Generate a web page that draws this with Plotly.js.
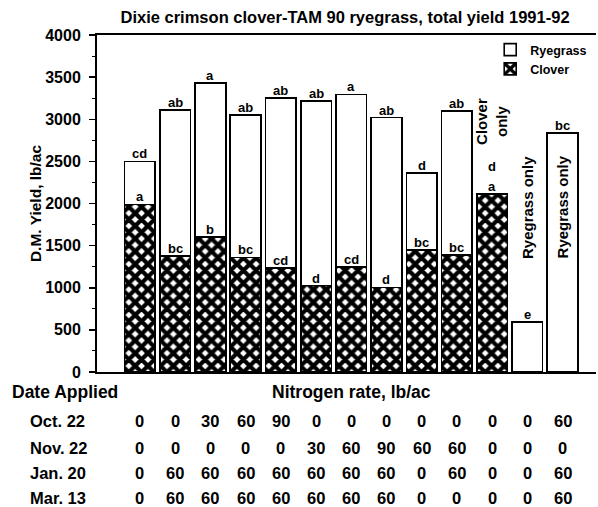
<!DOCTYPE html>
<html>
<head>
<meta charset="utf-8">
<script src="https://cdn.plot.ly/plotly-3.0.1.min.js"></script>
<style>html,body{margin:0;padding:0;background:#fff;}#chart{width:598px;height:507px;}</style>
</head>
<body>
<div id="chart"></div>
<script>
// ---- data ----
const treatments = [1,2,3,4,5,6,7,8,9,10,11,12,13];
const cloverYield   = [1990,1380,1600,1360,1235,1025,1245,1005,1450,1390,2115,null,null];
const ryegrassYield = [510,1730,1830,1690,2015,2190,2050,2015,910,1710,null,590,2840];
const totalLetters  = ['cd','ab','a','ab','ab','ab','a','ab','d','ab','d','e','bc'];
const cloverLetters = ['a','bc','b','bc','cd','d','cd','d','bc','bc','a','',''];
const dateLabels = ['Oct. 22','Nov. 22','Jan. 20','Mar. 13'];
const nOct = [0,0,30,60,90,0,0,0,0,0,0,0,60];
const nNov = [0,0,0,0,0,30,60,90,60,60,0,0,0];
const nJan = [0,60,60,60,60,60,60,60,0,60,0,0,60];
const nMar = [0,60,60,60,60,60,60,60,0,0,0,0,60];
const nitrogenRows = [nOct, nNov, nJan, nMar];
const yTicks = [0,500,1000,1500,2000,2500,3000,3500,4000];

const FONT = 'Liberation Sans, Arial, Helvetica, sans-serif';
const bf = (size) => ({family: FONT, size: size, color: '#000', weight: 'bold'});

const traces = [
  {
    type: 'bar', name: 'Clover', x: treatments, y: cloverYield, width: 0.87,
    marker: {color: '#fff', line: {color: '#000', width: 1.6},
             pattern: {shape: 'x', fgcolor: '#000', bgcolor: '#fff', size: 9, solidity: 0.72}},
    hoverinfo: 'skip'
  },
  {
    type: 'bar', name: 'Ryegrass', x: treatments, y: ryegrassYield, width: 0.87,
    marker: {color: '#fff', line: {color: '#000', width: 1.6}},
    hoverinfo: 'skip'
  }
];

const annotations = [];
treatments.forEach((t, i) => {
  const c = cloverYield[i] || 0;
  const r = ryegrassYield[i] || 0;
  const total = c + r;
  if (cloverLetters[i]) {
    annotations.push({x: t, y: c, xref: 'x', yref: 'y', text: cloverLetters[i], showarrow: false,
      yanchor: 'bottom', yshift: -2, font: bf(13)});
  }
  annotations.push({x: t, y: total, xref: 'x', yref: 'y', text: totalLetters[i], showarrow: false,
    yanchor: 'bottom', yshift: r ? -2 : 18, font: bf(13)});
});
// rotated notes
annotations.push({x: 11, y: 2970, xref: 'x', yref: 'y', text: 'Clover<br>only', textangle: -90,
  showarrow: false, font: bf(15)});
annotations.push({x: 12, y: 1950, xref: 'x', yref: 'y', text: 'Ryegrass only', textangle: -90,
  showarrow: false, font: bf(15)});
annotations.push({x: 13, y: 1960, xref: 'x', yref: 'y', text: 'Ryegrass only', textangle: -90,
  showarrow: false, font: bf(15)});

// table below the chart
const rowY = [-0.1454, -0.2255, -0.2997, -0.3739];
annotations.push({x: -0.1743, y: -0.0593, xref: 'paper', yref: 'paper', text: 'Date Applied',
  xanchor: 'left', yanchor: 'middle', showarrow: false, font: bf(17.5)});
annotations.push({x: 7, y: -0.0593, xref: 'x', yref: 'paper', text: 'Nitrogen rate, lb/ac',
  xanchor: 'center', yanchor: 'middle', showarrow: false, font: bf(17.5)});
dateLabels.forEach((d, k) => {
  annotations.push({x: -0.1383, y: rowY[k], xref: 'paper', yref: 'paper', text: d,
    xanchor: 'left', yanchor: 'middle', showarrow: false, font: bf(16.5)});
  nitrogenRows[k].forEach((v, i) => {
    annotations.push({x: treatments[i], y: rowY[k], xref: 'x', yref: 'paper', text: String(v),
      xanchor: 'center', yanchor: 'middle', showarrow: false, font: bf(16.5)});
  });
});

const layout = {
  width: 598, height: 507,
  margin: {l: 97, r: 2, t: 35, b: 135, pad: 0},
  paper_bgcolor: '#fff', plot_bgcolor: '#fff',
  font: bf(15),
  barmode: 'stack',
  title: {text: 'Dixie crimson clover-TAM 90 ryegrass, total yield 1991-92',
    font: bf(16.5), x: 0.577, xref: 'container', xanchor: 'center', y: 0.966, yref: 'container', yanchor: 'middle'},
  xaxis: {range: [-0.22, 13.95], showgrid: false, zeroline: false, showticklabels: false,
    ticks: '', showline: true, mirror: true, linecolor: '#000', linewidth: 2, fixedrange: true},
  yaxis: {range: [0, 4000], tickvals: yTicks, ticktext: yTicks.map(String), showgrid: false, zeroline: false,
    ticks: 'outside', ticklen: 6, tickwidth: 1.5, tickcolor: '#000', showline: true, linecolor: '#000', linewidth: 2,
    minor: {dtick: 250, ticks: 'outside', ticklen: 3, tickcolor: '#000', tickwidth: 1},
    tickfont: bf(16), ticklabelstandoff: 5,
    title: {text: 'D.M. Yield, lb/ac', font: bf(15.5), standoff: 0}},
  legend: {x: 0.788, y: 1.0, xanchor: 'left', yanchor: 'top', bgcolor: 'rgba(0,0,0,0)',
    font: bf(12.5), tracegroupgap: 0, itemwidth: 30},
  showlegend: true,
  annotations: annotations
};

Plotly.newPlot('chart', traces, layout, {displayModeBar: false, staticPlot: true});
</script>
</body>
</html>
